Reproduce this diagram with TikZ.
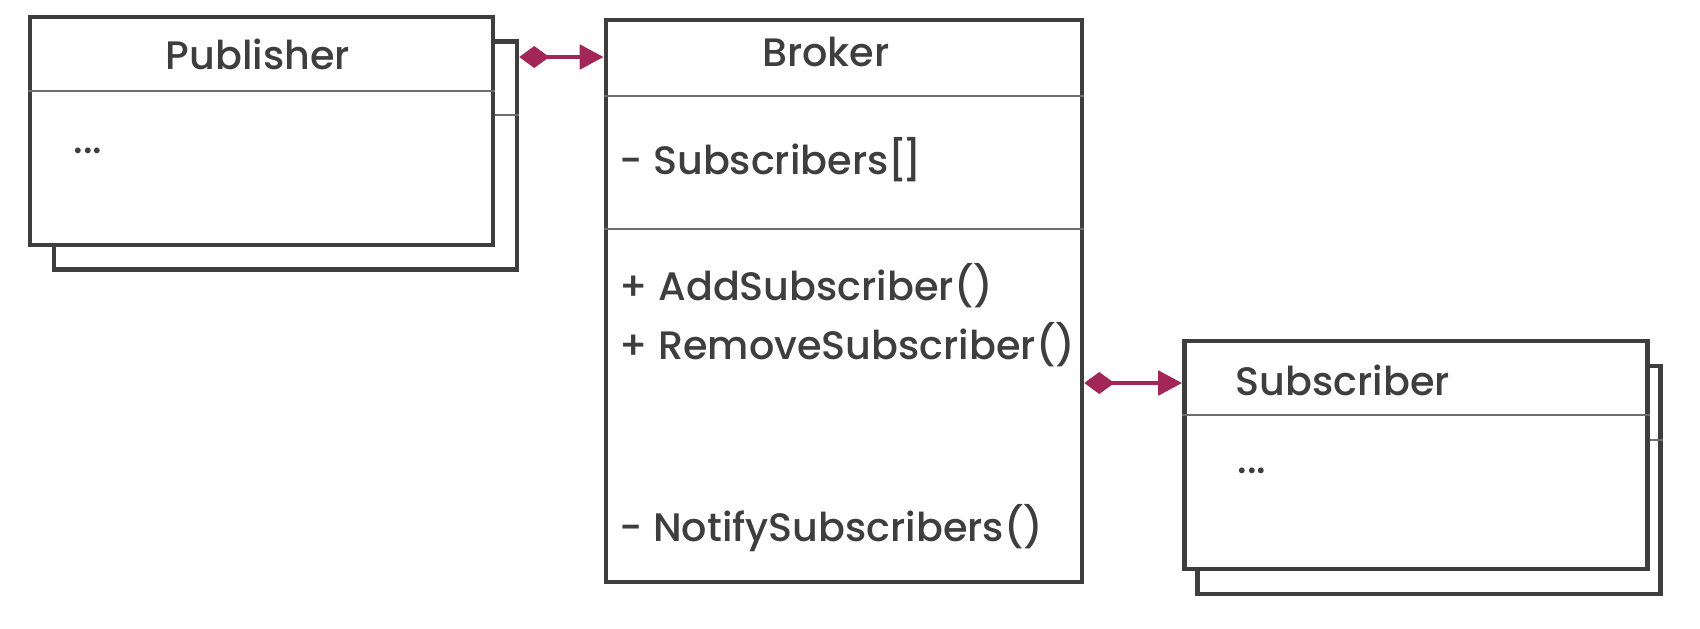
\documentclass[tikz,border=0pt]{standalone}
\usepackage{fontspec}
\setmainfont{Poppins}[UprightFont={* Medium}]
\usetikzlibrary{arrows.meta,positioning,calc}
\definecolor{ink}{RGB}{62,62,62}
\definecolor{plum}{RGB}{163,38,88}

\begin{document}
\begin{tikzpicture}[
        classbox/.style={draw=ink, fill=white, line width=1.3pt, minimum width=4.63cm, minimum height=2.28cm, inner sep=0pt},
        brokerbox/.style={classbox, minimum width=4.76cm, minimum height=5.62cm},
        sep/.style={draw=ink!75, line width=0.6pt},
        title/.style={text=ink, font=\fontsize{11.3}{13}\selectfont, anchor=base, inner sep=0pt},
        member/.style={text=ink, font=\fontsize{11.3}{13}\selectfont, anchor=base west, inner sep=0pt},
        comp/.style={{Diamond[length=3mm,width=2.2mm]}-{Triangle[length=2.4mm,width=2.4mm]}, draw=plum, line width=1.4pt}
    ]
        \useasboundingbox (0,0) rectangle (17,-6.28);

        \node[classbox] (pubback) at (2.855,-1.555) {};
        \draw[sep] ([yshift=-7.6mm]pubback.north west) -- ([yshift=-7.6mm]pubback.north east);
        \node[classbox] (pub) at (2.615,-1.31) {};
        \draw[sep] ([yshift=-7.6mm]pub.north west) -- ([yshift=-7.6mm]pub.north east);
        \node[title] (pubtitle) at (2.58,-0.69) {Publisher};
        \node[member] (pubdots) at (0.73,-1.53) {...};

        \node[brokerbox] (broker) at (8.44,-3.01) {};
        \draw[sep] ([yshift=-7.8mm]broker.north west) -- ([yshift=-7.8mm]broker.north east);
        \draw[sep] ([yshift=-21.1mm]broker.north west) -- ([yshift=-21.1mm]broker.north east);
        \node[title] (brokertitle) at (8.26,-0.66) {Broker};
        \node[member] (subs) at (6.19,-1.74) {- Subscribers[\kern-1.5pt]};
        \node[member] (addsub) at (6.19,-3.00) {+ AddSubscriber()};
        \node[member] (remsub) at (6.19,-3.59) {+ RemoveSubscriber()};
        \node[member] (notify) at (6.19,-5.41) {- NotifySubscribers()};

        \node[classbox] (subback) at (14.29,-4.80) {};
        \draw[sep] ([yshift=-7.6mm]subback.north west) -- ([yshift=-7.6mm]subback.north east);
        \node[classbox] (sub) at (14.16,-4.55) {};
        \draw[sep] ([yshift=-7.6mm]sub.north west) -- ([yshift=-7.6mm]sub.north east);
        \node[title] (subtitle) at (13.43,-3.95) {Subscriber};
        \node[member] (subdots) at (12.37,-4.73) {...};

        \coordinate (arrowA) at (0,-0.57);
        \coordinate (arrowB) at (0,-3.83);
        \draw[comp] (arrowA -| pubback.east) -- (arrowA -| broker.west);
        \draw[comp] (arrowB -| broker.east) -- (arrowB -| sub.west);
    \end{tikzpicture}
\end{document}
